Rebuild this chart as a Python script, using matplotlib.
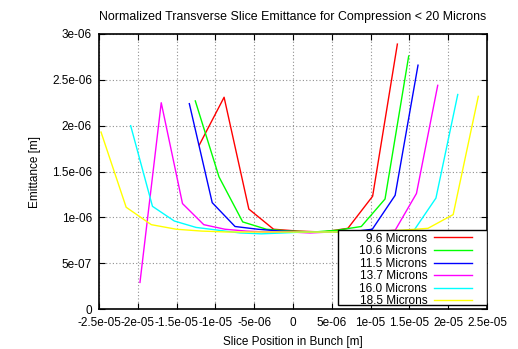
import matplotlib
matplotlib.use("Agg")
import matplotlib.pyplot as plt
from matplotlib.ticker import FuncFormatter, MultipleLocator
from matplotlib.patches import Rectangle
import numpy as np

plt.rcParams['font.family'] = ['Liberation Sans', 'DejaVu Sans']

# values, both axes in units of 1e-6 m
labels = ["9.6 Microns", "10.6 Microns", "11.5 Microns",
          "13.7 Microns", "16.0 Microns", "18.5 Microns"]
colores = ["#ff0000", "#00ff00", "#0000ff", "#ff00ff", "#00ffff", "#ffff00"]

x_96 = [-12.07, -8.88, -5.69, -2.50, 0.69, 3.88, 7.07, 10.26, 13.45]
y_96 = [1.79, 2.31, 1.09, 0.87, 0.85, 0.84, 0.88, 1.23, 2.89]

x_106 = [-12.59, -9.53, -6.48, -3.42, -0.37, 2.69, 5.74, 8.80, 11.86, 14.91]
y_106 = [2.27, 1.44, 0.95, 0.87, 0.85, 0.84, 0.86, 0.90, 1.20, 2.76]

x_115 = [-13.36, -10.41, -7.47, -4.52, -1.57, 1.38, 4.32, 7.27, 10.22, 13.16, 16.11]
y_115 = [2.24, 1.16, 0.90, 0.87, 0.85, 0.84, 0.84, 0.84, 0.87, 1.24, 2.66]

x_137 = [-19.72, -16.98, -14.24, -11.50, -8.76, -6.02, -3.28, -0.54, 2.20,
         4.94, 7.68, 10.42, 13.17, 15.91, 18.65]
y_137 = [0.29, 2.25, 1.15, 0.92, 0.87, 0.85, 0.84, 0.84, 0.83, 0.84, 0.84,
         0.84, 0.86, 1.26, 2.44]

x_160 = [-20.92, -18.11, -15.30, -12.49, -9.68, -6.87, -4.06, -1.25, 1.56,
         4.37, 7.18, 9.99, 12.80, 15.61, 18.42, 21.23]
y_160 = [2.00, 1.12, 0.96, 0.89, 0.86, 0.83, 0.82, 0.83, 0.84, 0.84, 0.84,
         0.84, 0.85, 0.86, 1.21, 2.34]

x_185 = [-24.74, -21.50, -18.26, -15.02, -11.77, -8.53, -5.29, -2.05, 1.19,
         4.43, 7.67, 10.91, 14.15, 17.39, 20.64, 23.88]
y_185 = [1.93, 1.11, 0.92, 0.87, 0.85, 0.84, 0.84, 0.84, 0.84, 0.84, 0.84,
         0.85, 0.86, 0.88, 1.03, 2.32]

series_x = [x_96, x_106, x_115, x_137, x_160, x_185]
series_y = [y_96, y_106, y_115, y_137, y_160, y_185]

fig = plt.figure(figsize=(5.18, 3.49), dpi=100)
ax = fig.add_axes([99/518, 1-309/349, 388/518, 275/349])

for xs, ys, lab, col in zip(series_x, series_y, labels, colores):
    ax.plot(np.array(xs)*1e-6, np.array(ys)*1e-6, color=col, lw=1.0, label=lab)

ax.set_xlim(-2.5e-5, 2.5e-5)
ax.set_ylim(0, 3e-6)
ax.xaxis.set_major_locator(MultipleLocator(5e-6))
ax.yaxis.set_major_locator(MultipleLocator(5e-7))
fmt = FuncFormatter(lambda v, p: "0" if abs(v) < 1e-12 else "%g" % v)
ax.xaxis.set_major_formatter(fmt)
ax.yaxis.set_major_formatter(fmt)

ax.tick_params(direction='in', length=4, width=0.8, top=True, right=True,
               labelsize=8.5, colors='black')
ax.tick_params(axis='x', pad=5.5)
ax.tick_params(axis='y', pad=5)
ax.grid(True, color='#909090', linestyle=(0, (1, 2)), lw=0.8)
for s in ax.spines.values():
    s.set_linewidth(1.2)

ax.set_title("Normalized Transverse Slice Emittance for Compression < 20 Microns",
             fontsize=8.9, pad=10)
ax.set_xlabel("Slice Position in Bunch [m]", fontsize=8.5, labelpad=5)
ax.set_ylabel("Emittance [m]", fontsize=8.5, labelpad=8)

# legend box like gnuplot: frame drawn separately, text right aligned
caja = Rectangle((239/388, 4/275), 149/388, 75/275, transform=ax.transAxes,
                 facecolor='white', edgecolor='black', lw=1.0, zorder=4)
ax.add_patch(caja)
leg = ax.legend(loc='lower right', bbox_to_anchor=(373/388, 1.5/275),
                frameon=False, markerfirst=False, fontsize=8.5,
                handlelength=3.2, handletextpad=0.6, labelspacing=0.05,
                borderpad=0, borderaxespad=0)
leg.set_zorder(5)

fig.savefig("out.png", dpi=100)
